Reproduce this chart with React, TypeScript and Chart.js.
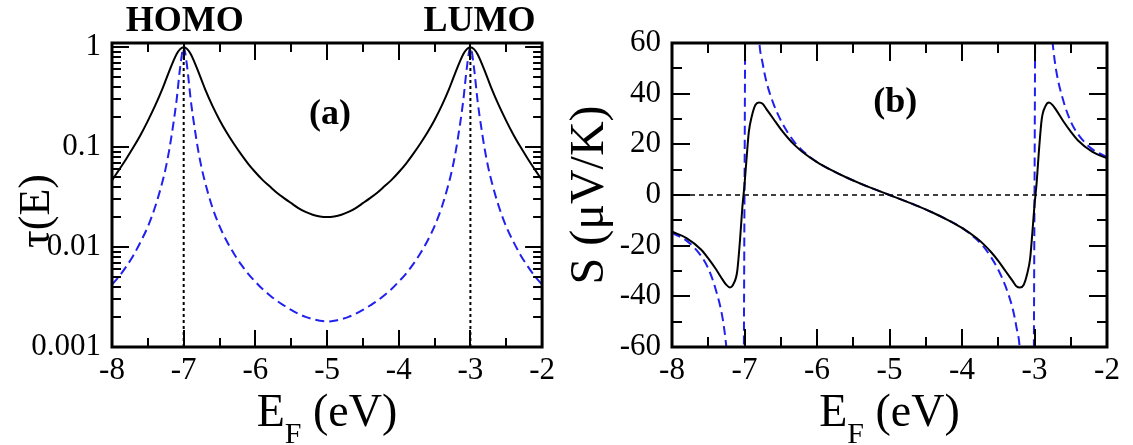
import React, { useEffect, useRef } from 'react';
import { Chart, registerables } from 'chart.js';
Chart.register(...registerables);

// ---------- data: panel (a) transmission ----------
const energyA = [
  -8, -7.9, -7.8, -7.7, -7.6, -7.5, -7.4, -7.3, -7.25, -7.2, -7.15, -7.1, -7.05, -7.0, -6.95,
  -6.9, -6.85, -6.8, -6.75, -6.7, -6.6, -6.5, -6.4, -6.3, -6.2, -6.1, -6.0, -5.9, -5.8, -5.7,
  -5.6, -5.5, -5.4, -5.3, -5.2, -5.1, -5.0,
  -4.9, -4.8, -4.7, -4.6, -4.5, -4.4, -4.3, -4.2, -4.1, -4.0, -3.9, -3.8, -3.7, -3.6, -3.5,
  -3.4, -3.3, -3.25, -3.2, -3.15, -3.1, -3.05, -3.0, -2.95, -2.9, -2.85, -2.8, -2.75, -2.7,
  -2.6, -2.5, -2.4, -2.3, -2.2, -2.1, -2.0,
];
const tauBlack = [
  0.0465, 0.0595, 0.0765, 0.1, 0.133, 0.183, 0.258, 0.378, 0.468, 0.578, 0.708, 0.848, 0.955, 1.0, 0.955,
  0.848, 0.708, 0.578, 0.468, 0.378, 0.26, 0.187, 0.14, 0.108, 0.085, 0.068, 0.056, 0.047, 0.0405, 0.035,
  0.0309, 0.0275, 0.02455, 0.02244, 0.02104, 0.02026, 0.02,
  0.02026, 0.02104, 0.02244, 0.02455, 0.0275, 0.0309, 0.035, 0.0405, 0.047, 0.056, 0.068, 0.085, 0.108, 0.14, 0.187,
  0.26, 0.378, 0.468, 0.578, 0.708, 0.848, 0.955, 1.0, 0.955, 0.848, 0.708, 0.578, 0.468, 0.378,
  0.258, 0.183, 0.133, 0.1, 0.0765, 0.0595, 0.0465,
];
const tauBlue = [
  0.0042, 0.0051, 0.0064, 0.0083, 0.0113, 0.016, 0.025, 0.044, 0.062, 0.095, 0.16, 0.29, 0.62, 1.0, 0.62,
  0.29, 0.16, 0.095, 0.062, 0.044, 0.025, 0.0162, 0.0115, 0.0086, 0.0067, 0.0054, 0.0045, 0.0038, 0.0033, 0.0029,
  0.0026, 0.00235, 0.00215, 0.002, 0.0019, 0.00183, 0.0018,
  0.00183, 0.0019, 0.002, 0.00215, 0.00235, 0.0026, 0.0029, 0.0033, 0.0038, 0.0045, 0.0054, 0.0067, 0.0086, 0.0115, 0.0162,
  0.025, 0.044, 0.062, 0.095, 0.16, 0.29, 0.62, 1.0, 0.62, 0.29, 0.16, 0.095, 0.062, 0.044,
  0.025, 0.016, 0.0113, 0.0083, 0.0064, 0.0051, 0.0042,
];

// ---------- data: panel (b) thermopower ----------
const energyS = [
  -8, -7.8, -7.6, -7.5, -7.4, -7.3, -7.25, -7.2, -7.15, -7.1, -7.06, -7.03, -7.0, -6.97, -6.94,
  -6.9, -6.85, -6.8, -6.75, -6.7, -6.6, -6.5, -6.4, -6.3, -6.2, -6.0, -5.8, -5.6, -5.4, -5.2, -5.0,
  -4.8, -4.6, -4.4, -4.2, -4.0, -3.8, -3.7, -3.6, -3.5, -3.4, -3.3, -3.25, -3.2, -3.15, -3.1,
  -3.06, -3.03, -3.0, -2.97, -2.94, -2.9, -2.85, -2.8, -2.75, -2.7, -2.6, -2.5, -2.4, -2.2, -2.0,
];
const sBlack = [
  -14.5, -17, -21.5, -25, -29, -33.5, -35.5, -36.5, -35, -30, -17, -5, 4, 15, 25,
  31, 35.5, 36.5, 36, 34, 30, 26, 22.5, 19.5, 17, 13, 9.8, 7, 4.5, 2.2, 0,
  -2.2, -4.5, -7, -9.8, -13, -17, -19.5, -22.5, -26, -30, -34, -36, -36.5, -35.5, -31,
  -25, -15, -4, 5, 17, 30, 35, 36.5, 35.5, 33.5, 29, 25, 21.5, 17, 14.5,
];
const sBlue = [
  -15, -18, -24, -29, -37, -49, -60, -76, -100, -145, -210, -190, 0, 190, 210,
  140, 95, 62, 52, 45, 36, 29.5, 24.5, 20.5, 17.5, 13, 9.8, 7, 4.5, 2.2, 0,
  -2.2, -4.5, -7, -9.8, -13, -17.5, -20.5, -24.5, -29.5, -36, -45, -52, -62, -95, -140,
  -210, -190, 0, 190, 210, 145, 100, 76, 60, 49, 37, 29, 24, 18, 15,
];

// ---------- axes / annotations ----------
const xTickValues = [-8, -7, -6, -5, -4, -3, -2];
const tauTickValues = [0.001, 0.01, 0.1, 1];
const sTickValues = [-60, -40, -20, 0, 20, 40, 60];
const levelEnergies = [-7, -3];
const levelNames = ['HOMO', 'LUMO'];
const panelLabels = ['(a)', '(b)'];

const SERIF = '"Liberation Serif", "Times New Roman", serif';

const xMinor = [-7.5, -6.5, -5.5, -4.5, -3.5, -2.5];
const tauMinor: number[] = [];
[0.001, 0.01, 0.1].forEach((d) => {
  for (let m = 2; m <= 9; m++) tauMinor.push(m * d);
});
const sMinor = [-50, -30, -10, 10, 30, 50];

function framePlugin(yMajor: number[], yMinor: number[], majLen: number, minLen: number) {
  return {
    id: 'frameTicks',
    afterDatasetsDraw(chart: any) {
      const { ctx, chartArea: a, scales } = chart;
      const xs = scales.x;
      const ys = scales.y;
      ctx.save();
      ctx.strokeStyle = '#000';
      ctx.lineWidth = 2;
      ctx.setLineDash([]);
      ctx.beginPath();
      const xt = (v: number, len: number) => {
        const p = Math.round(xs.getPixelForValue(v));
        ctx.moveTo(p, a.bottom);
        ctx.lineTo(p, a.bottom - len);
        ctx.moveTo(p, a.top);
        ctx.lineTo(p, a.top + len);
      };
      const yt = (v: number, len: number) => {
        const p = Math.round(ys.getPixelForValue(v));
        ctx.moveTo(a.left, p);
        ctx.lineTo(a.left + len, p);
        ctx.moveTo(a.right, p);
        ctx.lineTo(a.right - len, p);
      };
      xTickValues.forEach((v) => xt(v, majLen));
      xMinor.forEach((v) => xt(v, minLen));
      yMajor.forEach((v) => yt(v, majLen));
      yMinor.forEach((v) => yt(v, minLen));
      ctx.stroke();
      ctx.lineWidth = 3;
      ctx.strokeRect(a.left, a.top, a.right - a.left, a.bottom - a.top);
      ctx.restore();
    },
  };
}

function drawXTitle(ctx: CanvasRenderingContext2D, cx: number) {
  ctx.save();
  ctx.fillStyle = '#000';
  ctx.textBaseline = 'alphabetic';
  ctx.textAlign = 'left';
  const big = `46px ${SERIF}`;
  const small = `30px ${SERIF}`;
  ctx.font = big;
  const wE = ctx.measureText('E').width;
  const wRest = ctx.measureText(' (eV)').width;
  ctx.font = small;
  const wF = ctx.measureText('F').width;
  const total = wE + wF + wRest;
  let x = cx - total / 2;
  ctx.font = big;
  ctx.fillText('E', x, 426);
  x += wE;
  ctx.font = small;
  ctx.fillText('F', x, 443);
  x += wF;
  ctx.font = big;
  ctx.fillText(' (eV)', x, 426);
  ctx.restore();
}

function drawYTitle(ctx: CanvasRenderingContext2D, text: string, cx: number, cy: number, size: number) {
  ctx.save();
  ctx.fillStyle = '#000';
  ctx.translate(cx, cy);
  ctx.rotate(-Math.PI / 2);
  ctx.textAlign = 'center';
  ctx.textBaseline = 'middle';
  ctx.font = `${size}px ${SERIF}`;
  ctx.fillText(text, 0, 0);
  ctx.restore();
}

function annotationsA() {
  return {
    id: 'annotA',
    afterDraw(chart: any) {
      const { ctx, scales } = chart;
      const xs = scales.x;
      const ys = scales.y;
      ctx.save();
      ctx.fillStyle = '#000';
      ctx.font = `bold 36px ${SERIF}`;
      ctx.textAlign = 'center';
      ctx.textBaseline = 'alphabetic';
      ctx.fillText(levelNames[0], xs.getPixelForValue(levelEnergies[0]) + 1, 31);
      ctx.fillText(levelNames[1], xs.getPixelForValue(levelEnergies[1]) + 9, 31);
      ctx.textBaseline = 'middle';
      ctx.fillText(panelLabels[0], xs.getPixelForValue(-4.96), ys.getPixelForValue(0.21));
      ctx.restore();
      drawXTitle(ctx, xs.getPixelForValue(-5));
      drawYTitle(ctx, 'τ(E)', 37, 211, 44);
    },
  };
}

function annotationsB() {
  return {
    id: 'annotB',
    afterDraw(chart: any) {
      const { ctx, scales } = chart;
      const xs = scales.x;
      const ys = scales.y;
      ctx.save();
      ctx.fillStyle = '#000';
      ctx.font = `bold 36px ${SERIF}`;
      ctx.textAlign = 'center';
      ctx.textBaseline = 'middle';
      ctx.fillText(panelLabels[1], xs.getPixelForValue(-4.92), ys.getPixelForValue(36.5));
      ctx.restore();
      drawXTitle(ctx, xs.getPixelForValue(-5));
      drawYTitle(ctx, 'S (μV/K)', 30, 195, 48);
    },
  };
}

const tickFont = { family: SERIF, size: 31 };

function xScale() {
  return {
    type: 'linear',
    min: -8,
    max: -2,
    grid: { display: false, drawTicks: false },
    border: { display: false },
    afterBuildTicks: (s: any) => {
      s.ticks = xTickValues.map((v) => ({ value: v }));
    },
    afterFit: (s: any) => {
      s.height = 98;
    },
    ticks: {
      font: tickFont,
      color: '#000',
      padding: 5,
      maxRotation: 0,
      autoSkip: false,
      callback: (v: any) => String(v),
    },
  };
}

function PanelA() {
  const ref = useRef<HTMLCanvasElement>(null);
  useEffect(() => {
    const blackPts = energyA.map((e, i) => ({ x: e, y: tauBlack[i] }));
    const bluePts = energyA.map((e, i) => ({ x: e, y: tauBlue[i] }));
    const levelSets = levelEnergies.map((e) => ({
      data: [
        { x: e, y: tauTickValues[0] },
        { x: e, y: tauTickValues[tauTickValues.length - 1] },
      ],
      borderColor: '#000',
      borderWidth: 2,
      borderDash: [3, 3],
      pointRadius: 0,
      tension: 0,
    }));
    const chart = new Chart(ref.current as HTMLCanvasElement, {
      type: 'line',
      data: {
        datasets: [
          {
            data: blackPts,
            borderColor: '#000',
            borderWidth: 2,
            pointRadius: 0,
            cubicInterpolationMode: 'monotone',
          },
          {
            data: bluePts,
            borderColor: '#2020f0',
            borderWidth: 2,
            borderDash: [9, 5],
            pointRadius: 0,
            cubicInterpolationMode: 'monotone',
          },
          ...levelSets,
        ] as any,
      },
      options: {
        responsive: false,
        animation: false,
        devicePixelRatio: 1,
        layout: { padding: { left: 0, top: 43, right: 13, bottom: 0 } },
        elements: { line: { capBezierPoints: false } },
        plugins: { legend: { display: false }, tooltip: { enabled: false } },
        scales: {
          x: xScale() as any,
          y: {
            type: 'logarithmic',
            min: 0.001,
            max: 1.1,
            grid: { display: false, drawTicks: false },
            border: { display: false },
            afterBuildTicks: (s: any) => {
              s.ticks = tauTickValues.map((v) => ({ value: v }));
            },
            afterFit: (s: any) => {
              s.width = 112;
            },
            ticks: {
              font: tickFont,
              color: '#000',
              padding: 11,
              autoSkip: false,
              callback: (v: any) => String(v),
            },
          } as any,
        },
      },
      plugins: [framePlugin(tauTickValues, tauMinor, 17, 9), annotationsA()],
    });
    return () => chart.destroy();
  }, []);
  return <canvas ref={ref} width={560} height={445} style={{ position: 'absolute', left: 0, top: 0 }} />;
}

function PanelB() {
  const ref = useRef<HTMLCanvasElement>(null);
  useEffect(() => {
    const blackPts = energyS.map((e, i) => ({ x: e, y: sBlack[i] }));
    const bluePts = energyS.map((e, i) => ({ x: e, y: sBlue[i] }));
    const chart = new Chart(ref.current as HTMLCanvasElement, {
      type: 'line',
      data: {
        datasets: [
          {
            data: blackPts,
            borderColor: '#000',
            borderWidth: 2,
            pointRadius: 0,
            cubicInterpolationMode: 'monotone',
          },
          {
            data: bluePts,
            borderColor: '#2020f0',
            borderWidth: 2,
            borderDash: [9, 5],
            pointRadius: 0,
            cubicInterpolationMode: 'monotone',
          },
          {
            data: [
              { x: xTickValues[0], y: 0 },
              { x: xTickValues[xTickValues.length - 1], y: 0 },
            ],
            borderColor: '#000',
            borderWidth: 1.5,
            borderDash: [5, 4],
            pointRadius: 0,
          },
        ] as any,
      },
      options: {
        responsive: false,
        animation: false,
        devicePixelRatio: 1,
        layout: { padding: { left: 0, top: 43, right: 26, bottom: 0 } },
        elements: { line: { capBezierPoints: false } },
        plugins: { legend: { display: false }, tooltip: { enabled: false } },
        scales: {
          x: xScale() as any,
          y: {
            type: 'linear',
            min: -60,
            max: 60,
            grid: { display: false, drawTicks: false },
            border: { display: false },
            afterBuildTicks: (s: any) => {
              s.ticks = sTickValues.map((v) => ({ value: v }));
            },
            afterFit: (s: any) => {
              s.width = 112;
            },
            ticks: {
              font: tickFont,
              color: '#000',
              padding: 11,
              autoSkip: false,
              callback: (v: any) => String(v),
            },
          } as any,
        },
      },
      plugins: [framePlugin(sTickValues, sMinor, 18, 10), annotationsB()],
    });
    return () => chart.destroy();
  }, []);
  return <canvas ref={ref} width={573} height={445} style={{ position: 'absolute', left: 560, top: 0 }} />;
}

export default function App() {
  return (
    <div style={{ position: 'fixed', left: 0, top: 0, width: 1133, height: 445, background: '#fff', overflow: 'hidden' }}>
      <PanelA />
      <PanelB />
    </div>
  );
}
